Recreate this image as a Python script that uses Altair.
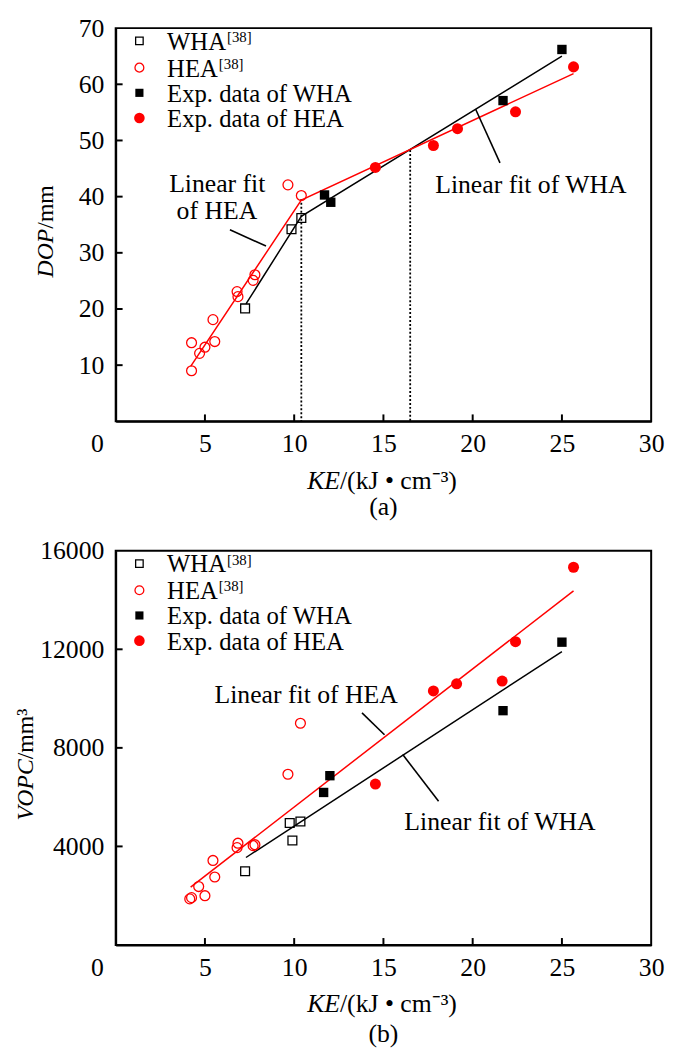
import altair as alt
import pandas as pd

FONT = "Liberation Serif"
RED = "#ff0000"

# ---------------- panel (a): DOP vs KE ----------------
ke_hea38_a = [4.25, 4.25, 4.7, 5.0, 5.45, 5.55, 6.8, 6.85, 7.7, 7.8, 9.65, 10.4]
dop_hea38 = [9.0, 14.0, 12.1, 13.2, 18.1, 14.2, 23.1, 22.2, 25.1, 26.1, 42.1, 40.2]
ke_wha38_a = [7.25, 9.85, 10.4]
dop_wha38 = [20.1, 34.2, 36.2]
ke_wha_exp_a = [11.7, 12.05, 21.7, 25.0]
dop_wha_exp = [40.3, 39.0, 57.1, 66.2]
ke_hea_exp_a = [14.55, 17.8, 19.15, 22.4, 25.65]
dop_hea_exp = [45.2, 49.1, 52.1, 55.1, 63.1]
ke_hea_fit_a = [4.2, 10.4, 25.65]
dop_hea_fit = [9.8, 39.4, 61.9]
ke_wha_fit_a = [7.3, 10.4, 25.0]
dop_wha_fit = [20.9, 36.5, 65.0]
ke_transition = [10.4, 16.5]
dop_transition = [39.6, 48.3]

# ---------------- panel (b): VOPC vs KE ----------------
ke_hea38_b = [4.15, 4.25, 4.65, 5.0, 5.45, 5.55, 6.8, 6.85, 7.7, 7.8, 9.65, 10.35]
vopc_hea38 = [1870, 1920, 2370, 2000, 3430, 2760, 3950, 4130, 4030, 4070, 6930, 9000]
ke_wha38_b = [7.25, 9.75, 9.9, 10.35]
vopc_wha38 = [2990, 4950, 4240, 5010]
ke_wha_exp_b = [11.65, 12.0, 21.7, 25.0]
vopc_wha_exp = [6190, 6870, 9510, 12290]
ke_hea_exp_b = [14.55, 17.8, 19.1, 21.65, 22.4, 25.65]
vopc_hea_exp = [6530, 10310, 10600, 10710, 12310, 15330]
ke_hea_fit_b = [4.2, 25.65]
vopc_hea_fit = [2350, 14370]
ke_wha_fit_b = [7.3, 25.0]
vopc_wha_fit = [3550, 11910]

x_ticks = [0, 5, 10, 15, 20, 25, 30]
dop_ticks = [0, 10, 20, 30, 40, 50, 60, 70]
vopc_ticks = [0, 4000, 8000, 12000, 16000]

legend_labels = ["WHA", "HEA", "Exp. data of WHA", "Exp. data of HEA"]
legend_sup = ["[38]", "[38]", "", ""]

# annotations (label anchor points in data units)
ann_a_text = ["Linear fit", "of HEA", "Linear fit of WHA"]
ann_a_ke = [5.69, 5.67, 23.26]
ann_a_dop = [42.3, 37.4, 42.0]
lead_a_ke = [6.40, 8.42, 20.16, 21.53]
lead_a_dop = [34.1, 31.2, 55.6, 46.0]
ann_b_text = ["Linear fit of HEA", "Linear fit of WHA"]
ann_b_ke = [10.67, 21.53]
ann_b_vopc = [10130, 4980]
lead_b_ke = [13.80, 15.06, 16.08, 18.09]
lead_b_vopc = [9420, 8530, 7730, 5830]

W = 542
LEG_FS = 25


def panel(H, ydom, yticks, series, fits, leaders, ann, ytitle, caption, dotted=None,
          ytitle_x=-70, ytitle_y=203, cap_y=87):
    X = alt.X("ke:Q", scale=alt.Scale(domain=[0, 30], nice=False, zero=False),
              axis=alt.Axis(values=x_ticks, title=None, ticks=False, grid=False,
                            domainColor="black", domainWidth=2, labelFont=FONT,
                            labelFontSize=26, labelColor="black", labelPadding=10,
                            labelFlush=False, labelOverlap=False,
                            labelOffset={"condition": {"test": "datum.value === 0", "value": -19},
                                         "value": 0}))
    Y = alt.Y("v:Q", scale=alt.Scale(domain=ydom, nice=False, zero=False),
              axis=alt.Axis(values=yticks, title=None, ticks=False, grid=False, format="d",
                            domainColor="black", domainWidth=2, labelFont=FONT,
                            labelFontSize=26, labelColor="black", labelPadding=12,
                            labelFlush=False, labelOverlap=False,
                            labelExpr="datum.value === 0 ? '' : datum.label"))
    layers = []
    # inward ticks
    layers.append(alt.Chart(pd.DataFrame({"ke": x_ticks[1:-1]})).mark_rule(color="black", strokeWidth=2)
                  .encode(x=X, y=alt.value(H), y2=alt.value(H - 7)))
    layers.append(alt.Chart(pd.DataFrame({"v": yticks[1:-1]})).mark_rule(color="black", strokeWidth=2)
                  .encode(y=Y, x=alt.value(0), x2=alt.value(7)))
    if dotted is not None:
        dk, dv = dotted
        layers.append(alt.Chart(pd.DataFrame({"ke": dk, "v": dv, "v0": [0] * len(dk)}))
                      .mark_rule(color="black", strokeWidth=1.8, strokeDash=[2, 2])
                      .encode(x=X, y=Y, y2="v0:Q"))
    for ke, v, color in fits:
        layers.append(alt.Chart(pd.DataFrame({"ke": ke, "v": v})).mark_line(color=color, strokeWidth=1.5)
                      .encode(x=X, y=Y, order="ke:Q"))
    lk, lv = leaders
    layers.append(alt.Chart(pd.DataFrame({"ke": lk, "v": lv, "g": [i // 2 for i in range(len(lk))]}))
                  .mark_line(color="black", strokeWidth=1.6)
                  .encode(x=X, y=Y, detail="g:N"))
    at, ak, av = ann
    layers.append(alt.Chart(pd.DataFrame({"ke": ak, "v": av, "t": at}))
                  .mark_text(font=FONT, fontSize=26, align="center", baseline="middle", color="black")
                  .encode(x=X, y=Y, text="t:N"))
    styles = [("square", False, "black", 80), ("circle", False, RED, 100),
              ("square", True, "black", 90), ("circle", True, RED, 125)]
    for (ke, v), (shape, filled, color, size) in zip(series, styles):
        layers.append(alt.Chart(pd.DataFrame({"ke": ke, "v": v}))
                      .mark_point(shape=shape, filled=filled, color=color, size=size, opacity=1,
                                  strokeWidth=1.3)
                      .encode(x=X, y=Y))
    # legend
    rows = [13, 40, 65.5, 91]
    lstyles = [("square", False, "black", 58), ("circle", False, RED, 80),
               ("square", True, "black", 68), ("circle", True, RED, 115)]
    for i, (lab, sup) in enumerate(zip(legend_labels, legend_sup)):
        shape, filled, color, size = lstyles[i]
        layers.append(alt.Chart(pd.DataFrame({"t": [lab]}))
                      .mark_point(shape=shape, filled=filled, color=color, size=size, opacity=1,
                                  strokeWidth=1.3)
                      .encode(x=alt.value(24), y=alt.value(rows[i])))
        layers.append(alt.Chart(pd.DataFrame({"t": [lab]}))
                      .mark_text(font=FONT, fontSize=LEG_FS, align="left", baseline="alphabetic", color="black")
                      .encode(x=alt.value(52), y=alt.value(rows[i] + 9), text="t:N"))
        if sup:
            wid = {"WHA": 2.388, "HEA": 2.055}[lab] * LEG_FS
            layers.append(alt.Chart(pd.DataFrame({"t": [sup]}))
                          .mark_text(font=FONT, fontSize=15, align="left", baseline="alphabetic", color="black")
                          .encode(x=alt.value(52 + wid + 1), y=alt.value(rows[i] + 1), text="t:N"))
    # axis titles (italic symbol + upright unit)
    ysym, yunit = ytitle
    layers.append(alt.Chart(pd.DataFrame({"t": [ysym]}))
                  .mark_text(font=FONT, fontSize=24, fontStyle="italic", angle=270, align="right",
                             baseline="middle", color="black")
                  .encode(x=alt.value(ytitle_x), y=alt.value(ytitle_y), text="t:N"))
    layers.append(alt.Chart(pd.DataFrame({"t": [yunit]}))
                  .mark_text(font=FONT, fontSize=24, angle=270, align="left",
                             baseline="middle", color="black")
                  .encode(x=alt.value(ytitle_x), y=alt.value(ytitle_y), text="t:N"))
    layers.append(alt.Chart(pd.DataFrame({"t": ["KE"]}))
                  .mark_text(font=FONT, fontSize=26, fontStyle="italic", align="right",
                             baseline="middle", color="black")
                  .encode(x=alt.value(227), y=alt.value(H + 60), text="t:N"))
    layers.append(alt.Chart(pd.DataFrame({"t": ["/(kJ • cm⁻³)"]}))
                  .mark_text(font=FONT, fontSize=26, align="left",
                             baseline="middle", color="black")
                  .encode(x=alt.value(227), y=alt.value(H + 60), text="t:N"))
    layers.append(alt.Chart(pd.DataFrame({"t": [caption]}))
                  .mark_text(font=FONT, fontSize=26, align="center",
                             baseline="middle", color="black")
                  .encode(x=alt.value(W / 2), y=alt.value(H + cap_y), text="t:N"))
    return alt.layer(*layers).properties(width=W, height=H)


pa = panel(398, [0, 70], dop_ticks,
           [(ke_wha38_a, dop_wha38), (ke_hea38_a, dop_hea38),
            (ke_wha_exp_a, dop_wha_exp), (ke_hea_exp_a, dop_hea_exp)],
           [(ke_wha_fit_a, dop_wha_fit, "black"), (ke_hea_fit_a, dop_hea_fit, RED)],
           (lead_a_ke, lead_a_dop), (ann_a_text, ann_a_ke, ann_a_dop),
           ("DOP", "/mm"), "(a)", dotted=(ke_transition, dop_transition),
           ytitle_x=-70, ytitle_y=203, cap_y=87)

pb = panel(399, [0, 16000], vopc_ticks,
           [(ke_wha38_b, vopc_wha38), (ke_hea38_b, vopc_hea38),
            (ke_wha_exp_b, vopc_wha_exp), (ke_hea_exp_b, vopc_hea_exp)],
           [(ke_wha_fit_b, vopc_wha_fit, "black"), (ke_hea_fit_b, vopc_hea_fit, RED)],
           (lead_b_ke, lead_b_vopc), (ann_b_text, ann_b_ke, ann_b_vopc),
           ("VOPC", "/mm³"), "(b)",
           ytitle_x=-91, ytitle_y=211, cap_y=90)

chart = (alt.vconcat(pa, pb, spacing=16)
         .properties(padding={"left": 5, "top": 0, "right": 0, "bottom": 0})
         .configure_view(stroke="black", strokeWidth=2))

chart.save("out.html", embed_options={"renderer": "svg", "actions": False})
